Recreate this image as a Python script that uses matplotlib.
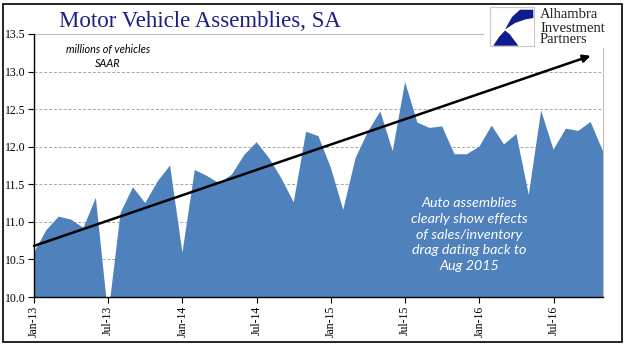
import pandas as pd
import matplotlib
matplotlib.use("Agg")
import matplotlib.pyplot as plt
from matplotlib.patches import Rectangle, Polygon

# monthly data, Jan-13 .. Nov-16 (millions of vehicles, SAAR)
months = pd.date_range("2013-01-01", "2016-11-01", freq="MS")
assemblies = [10.59, 10.89, 11.07, 11.03, 10.92, 11.32, 9.75, 11.12, 11.46, 11.25, 11.54, 11.75,
              10.59, 11.69, 11.61, 11.51, 11.63, 11.89, 12.06, 11.85, 11.58, 11.26, 12.20, 12.14,
              11.72, 11.16, 11.85, 12.20, 12.47, 11.94, 12.86, 12.32, 12.25, 12.27, 11.90, 11.90,
              12.00, 12.28, 12.03, 12.17, 11.36, 12.48, 11.96, 12.24, 12.21, 12.33, 11.94]
tick_idx = list(range(0, len(months), 6))
tick_labels = [months[i].strftime("%b-%y") for i in tick_idx]
y_ticks = [10.0, 10.5, 11.0, 11.5, 12.0, 12.5, 13.0, 13.5]

# trend arrow (start month idx, value) -> (end month idx, value)
trend_start = (0, 10.68)
trend_end = (45, 13.21)

W, H = 641, 358
fig = plt.figure(figsize=(W / 100, H / 100), dpi=100)

def px_axes(x0, y0, x1, y1, **kw):
    return fig.add_axes([x0 / W, 1 - y1 / H, (x1 - x0) / W, (y1 - y0) / H], **kw)

ax = px_axes(34, 34, 603, 297)
x = list(range(len(months)))
ax.fill_between(x, assemblies, 0, color="#4F81BD", lw=0, zorder=2)
ax.set_xlim(0, len(months) - 1)
ax.set_ylim(10, 13.5)
ax.set_yticks(y_ticks)
ax.set_yticklabels([f"{v:.1f}" for v in y_ticks], fontsize=8.5, family="Liberation Serif")
ax.set_xticks(tick_idx)
ax.set_xticklabels(tick_labels, rotation=90, fontsize=8.5, family="Liberation Serif")
ax.tick_params(axis="both", length=4, width=0.8, color="black", pad=2)
for v in y_ticks[1:-1]:
    ax.axhline(v, color="#a6a6a6", lw=0.7, ls=(0, (3, 2)), zorder=1)
for s in ["left", "bottom"]:
    ax.spines[s].set_color("black")
    ax.spines[s].set_linewidth(1.0)
    ax.spines[s].set_zorder(4)
for s in ["top", "right"]:
    ax.spines[s].set_color("#bfbfbf")
    ax.spines[s].set_linewidth(0.8)

ax.annotate("", xy=trend_end, xytext=trend_start,
            arrowprops=dict(arrowstyle="-|>", color="black", lw=1.8,
                            mutation_scale=11, shrinkA=0, shrinkB=0),
            zorder=5, annotation_clip=False)

ax.text(6.0, 13.2, "millions of vehicles\nSAAR", ha="center", va="center",
        fontsize=7.8, style="italic", family="Lato", linespacing=1.3)
ax.text(35.2, 10.83, "Auto assemblies\nclearly show effects\nof sales/inventory\ndrag dating back to\nAug 2015",
        ha="center", va="center", color="white", fontsize=10.3, style="italic",
        family="Lato", linespacing=1.36, zorder=6)

fig.text(59 / W, 1 - 27 / H, "Motor Vehicle Assemblies, SA", fontsize=16.5,
         family="Liberation Serif", color="#1c2080", va="baseline")

# logo
lg = px_axes(484, 4, 606, 48)
lg.set_xlim(484, 606)
lg.set_ylim(48, 4)
lg.axis("off")
lg.add_patch(Rectangle((484, 4), 122, 44, color="white", zorder=0))
lg.add_patch(Rectangle((490, 6.5), 43.5, 39.5, fill=False, ec="#c8c8c8", lw=0.8))
lg.add_patch(Polygon([(533.3, 9.7), (520, 9.7), (512, 17), (505, 29.5), (515, 23),
                      (525, 19.5), (533.3, 18)], color="#0f1c8c", lw=0))
lg.add_patch(Polygon([(493.3, 45.7), (499, 37), (505, 30.5), (510, 34.5),
                      (514, 40), (518.3, 45.7)], color="#0f1c8c", lw=0))
for txt, yb in [("Alhambra", 18), ("Investment", 31.5), ("Partners", 43.3)]:
    lg.text(540, yb, txt, fontsize=10.5, family="Liberation Serif", color="#222222",
            va="baseline", ha="left")

# outer frame
fig.patches.append(Rectangle((3 / W, 1 - 342 / H), 619 / W, 338 / H, fill=False,
                             ec="black", lw=1.2, transform=fig.transFigure, zorder=10))

fig.savefig("out.png", dpi=100)
